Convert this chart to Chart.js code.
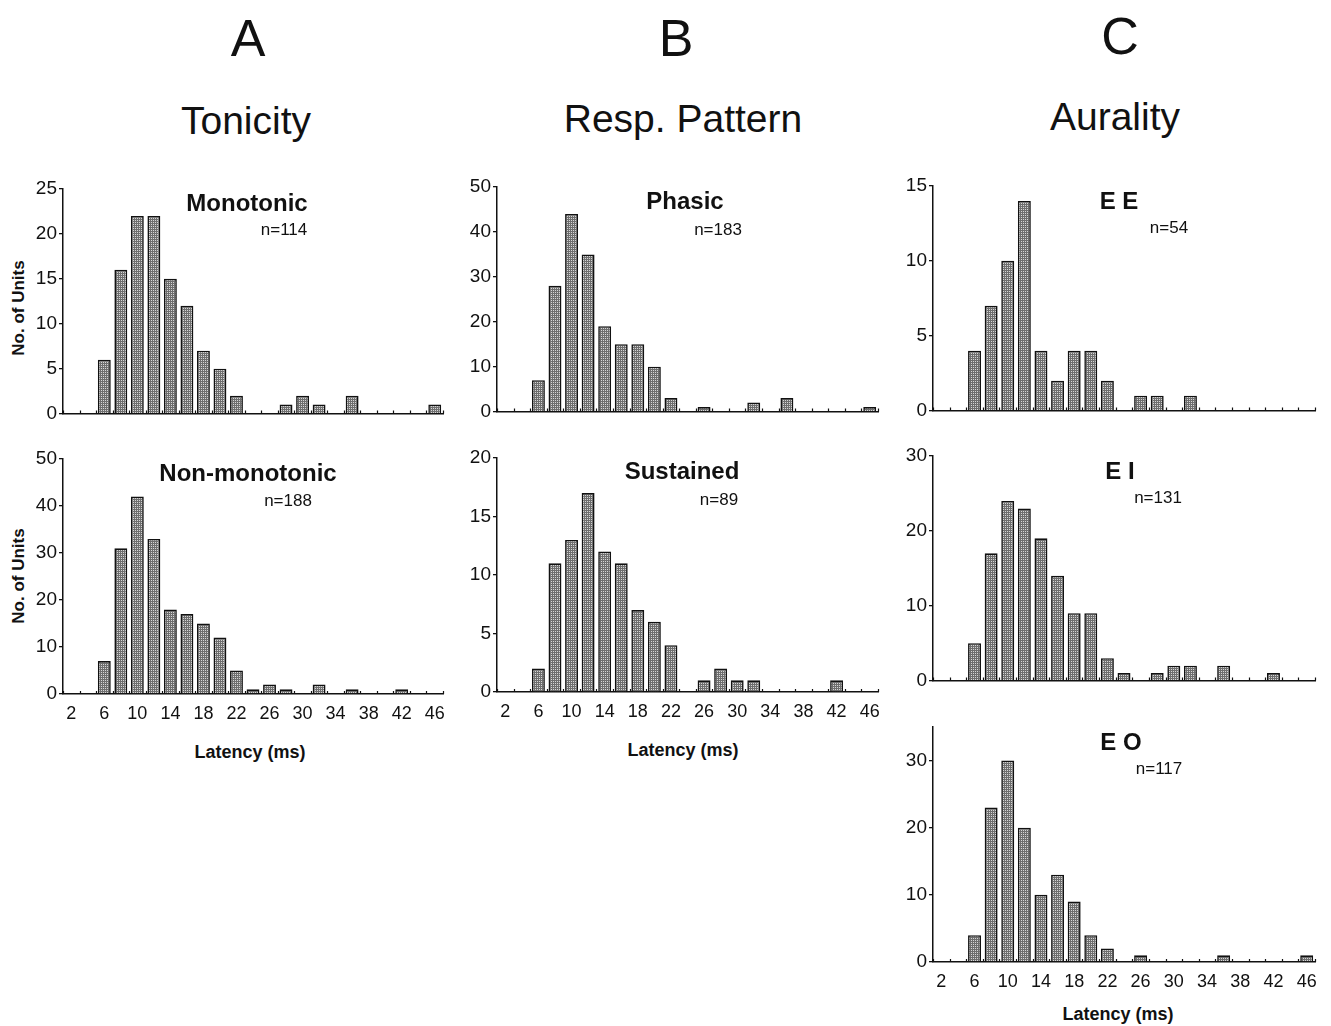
<!DOCTYPE html>
<html>
<head>
<meta charset="utf-8">
<script src="https://cdn.jsdelivr.net/npm/chart.js@4.4.1/dist/chart.umd.min.js"></script>
<style>
  html, body { margin: 0; padding: 0; background: #fff; }
  body { width: 1331px; height: 1026px; position: relative; overflow: hidden;
         font-family: "Liberation Sans", Arial, Helvetica, sans-serif; color: #111; }
  .t { position: absolute; transform: translate(-50%, -50%); white-space: nowrap; line-height: 1; }
  .panel { position: absolute; }
  .rot { transform: translate(-50%, -50%) rotate(-90deg); }
</style>
</head>
<body>
<script>
// ---------------- DATA ----------------
const latencyBins = ['2','4','6','8','10','12','14','16','18','20','22','24','26','28','30','32','34','36','38','40','42','44','46'];
const shownTickLabels = ['2','6','10','14','18','22','26','30','34','38','42','46'];

const monotonic    = [0,0,6,16,22,22,15,12,7,5,2,0,0,1,2,1,0,2,0,0,0,0,1];
const nonMonotonic = [0,0,7,31,42,33,18,17,15,12,5,1,2,1,0,2,0,1,0,0,1,0,0];
const phasic       = [0,0,7,28,44,35,19,15,15,10,3,0,1,0,0,2,0,3,0,0,0,0,1];
const sustained    = [0,0,2,11,13,17,12,11,7,6,4,0,1,2,1,1,0,0,0,0,1,0,0];
const eeUnits      = [0,0,4,7,10,14,4,2,4,4,2,0,1,1,0,1,0,0,0,0,0,0,0];
const eiUnits      = [0,0,5,17,24,23,19,14,9,9,3,1,0,1,2,2,0,2,0,0,1,0,0];
const eoUnits      = [0,0,4,23,30,20,10,13,9,4,2,0,1,0,0,0,0,1,0,0,0,0,1];

const columnHeaders = ['A', 'B', 'C'];
const columnTitles  = ['Tonicity', 'Resp. Pattern', 'Aurality'];
const panelTitles   = ['Monotonic', 'Non-monotonic', 'Phasic', 'Sustained', 'E E', 'E I', 'E O'];
const panelCounts   = ['n=114', 'n=188', 'n=183', 'n=89', 'n=54', 'n=131', 'n=117'];
const yMaxes        = [25, 50, 50, 20, 15, 30, 35];
const ySteps        = [5, 10, 10, 5, 5, 10, 10];
const xAxisTitle    = 'Latency (ms)';
const yAxisTitle    = 'No. of Units';

// ---------------- LAYOUT ----------------
const seriesList = [monotonic, nonMonotonic, phasic, sustained, eeUnits, eiUnits, eoUnits];
const layout = [
  {x: 63,  r: 443,  top: 189, bot: 424, labels: false, tx: 247,  ty: 203, nx: 284,  ny: 229},
  {x: 63,  r: 443,  top: 459, bot: 694, labels: true,  tx: 248,  ty: 473, nx: 288,  ny: 500},
  {x: 497, r: 878,  top: 187, bot: 422, labels: false, tx: 685,  ty: 201, nx: 718,  ny: 229},
  {x: 497, r: 878,  top: 458, bot: 692, labels: true,  tx: 682,  ty: 471, nx: 719,  ny: 499},
  {x: 933, r: 1315, top: 186, bot: 421, labels: false, tx: 1119, ty: 201, nx: 1169, ny: 227},
  {x: 933, r: 1315, top: 456, bot: 691, labels: false, tx: 1120, ty: 471, nx: 1158, ny: 497},
  {x: 933, r: 1315, top: 727, bot: 962, labels: true,  tx: 1121, ty: 742, nx: 1159, ny: 768}
];
const FONT = '"Liberation Sans", Arial, Helvetica, sans-serif';

function addText(str, x, y, size, weight, extraClass) {
  const d = document.createElement('div');
  d.className = 't' + (extraClass ? ' ' + extraClass : '');
  d.textContent = str;
  d.style.left = x + 'px';
  d.style.top = y + 'px';
  d.style.fontSize = size + 'px';
  d.style.fontWeight = weight || 'normal';
  document.body.appendChild(d);
}

// headers
const headerPos = [[248, 38], [676, 38], [1120, 36]];
const titlePos  = [[246, 120], [683, 118], [1115, 116]];
columnHeaders.forEach((h, i) => addText(h, headerPos[i][0], headerPos[i][1], 52));
columnTitles.forEach((h, i) => addText(h, titlePos[i][0], titlePos[i][1], 39));
addText(xAxisTitle, 250, 752, 18, 'bold');
addText(xAxisTitle, 683, 750, 18, 'bold');
addText(xAxisTitle, 1118, 1014, 18, 'bold');
addText(yAxisTitle, 18, 308, 17, 'bold', 'rot');
addText(yAxisTitle, 18, 576, 17, 'bold', 'rot');

// stipple pattern for bars (light dots on mid grey)
function makePattern() {
  const c = document.createElement('canvas');
  c.width = 2; c.height = 2;
  const g = c.getContext('2d');
  g.fillStyle = '#6e6e6e'; g.fillRect(0, 0, 2, 2);
  g.fillStyle = '#d6d6d6'; g.fillRect(0, 0, 1, 1);
  return g.createPattern(c, 'repeat');
}
const stipple = makePattern();

// inward tick marks at bin edges on x axis
const binEdgeTicks = {
  id: 'binEdgeTicks',
  afterDraw(chart) {
    const xs = chart.scales.x;
    const n = chart.data.labels.length;
    const step = xs.getPixelForValue(1) - xs.getPixelForValue(0);
    const ctx = chart.ctx;
    ctx.save();
    ctx.strokeStyle = '#111';
    ctx.lineWidth = 1.2;
    ctx.beginPath();
    for (let i = 0; i <= n; i++) {
      const px = Math.round(xs.getPixelForValue(0) - step / 2 + i * step) + 0.5;
      ctx.moveTo(px, xs.top);
      ctx.lineTo(px, xs.top - 3);
    }
    ctx.stroke();
    ctx.restore();
  }
};

const Y_W = 50, PAD_T = 15, PAD_R = 16;

layout.forEach((p, i) => {
  const xh = p.labels ? 32 : 3;
  const w = (p.r - p.x) + Y_W + PAD_R;
  const h = PAD_T + (p.bot - p.top) + xh;
  const div = document.createElement('div');
  div.className = 'panel';
  div.style.left = (p.x - Y_W) + 'px';
  div.style.top = (p.top - PAD_T) + 'px';
  div.style.width = w + 'px';
  div.style.height = h + 'px';
  const cv = document.createElement('canvas');
  cv.width = w; cv.height = h;
  cv.style.width = w + 'px'; cv.style.height = h + 'px';
  div.appendChild(cv);
  document.body.appendChild(div);

  new Chart(cv.getContext('2d'), {
    type: 'bar',
    data: {
      labels: latencyBins,
      datasets: [{
        data: seriesList[i],
        backgroundColor: stipple,
        borderColor: '#111',
        borderWidth: 1.6,
        borderSkipped: 'bottom',
        barPercentage: 0.78,
        categoryPercentage: 1.0
      }]
    },
    options: {
      responsive: false,
      animation: false,
      devicePixelRatio: 1,
      layout: { padding: { top: PAD_T, right: PAD_R, left: 0, bottom: 0 } },
      plugins: { legend: { display: false }, tooltip: { enabled: false }, title: { display: false } },
      scales: {
        x: {
          type: 'category',
          offset: true,
          grid: { display: false, offset: true },
          border: { display: true, color: '#111', width: 1.5 },
          ticks: {
            display: p.labels,
            autoSkip: false,
            maxRotation: 0,
            minRotation: 0,
            padding: 1,
            color: '#111',
            font: { family: FONT, size: 18 },
            callback: function(v) {
              const lab = this.getLabelForValue(v);
              return shownTickLabels.includes(lab) ? lab : '';
            }
          },
          afterFit: (s) => { s.height = xh; }
        },
        y: {
          min: 0,
          max: yMaxes[i],
          grid: { display: true, drawOnChartArea: false, drawTicks: true, tickLength: 4, color: '#111', lineWidth: 1.3 },
          border: { display: true, color: '#111', width: 1.5 },
          ticks: {
            stepSize: ySteps[i],
            includeBounds: false,
            padding: 2,
            color: '#111',
            font: { family: FONT, size: 19 }
          },
          afterFit: (s) => { s.width = Y_W; }
        }
      }
    },
    plugins: [binEdgeTicks]
  });

  addText(panelTitles[i], p.tx, p.ty, 24, 'bold');
  addText(panelCounts[i], p.nx, p.ny, 17);
});
</script>
</body>
</html>
